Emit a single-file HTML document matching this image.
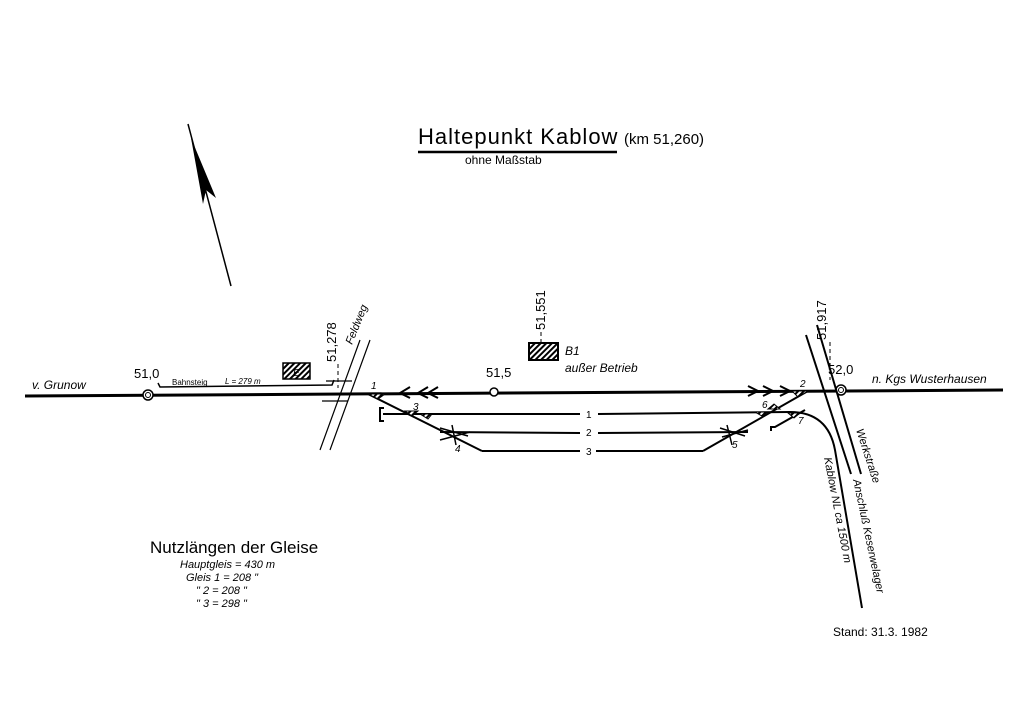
<!DOCTYPE html>
<html><head><meta charset="utf-8"><style>
html,body{margin:0;padding:0;background:#fff;}
svg{display:block;font-family:"Liberation Sans",sans-serif;}
.i{font-style:italic;}
</style></head><body>
<svg width="1024" height="724" viewBox="0 0 1024 724" xmlns="http://www.w3.org/2000/svg">
<rect width="1024" height="724" fill="#fff"/>
<defs>
<pattern id="h" width="4" height="4" patternUnits="userSpaceOnUse" patternTransform="rotate(45)"><rect width="4" height="4" fill="#fff"/><rect width="2" height="4" fill="#000"/></pattern>
</defs>
<!-- North arrow -->
<line x1="188" y1="124" x2="231" y2="286" stroke="#000" stroke-width="1.5"/>
<polygon points="191,138 216,198 206,190 203,204" fill="#000"/>
<!-- Title -->
<text x="418" y="144" font-size="22" letter-spacing="1">Haltepunkt  Kablow</text>
<line x1="418" y1="152" x2="617" y2="152" stroke="#000" stroke-width="2.5"/>
<text x="624" y="144" font-size="15">(km 51,260)</text>
<text x="465" y="164" font-size="12">ohne Maßstab</text>
<!-- main line -->
<line x1="25" y1="396" x2="1003" y2="390" stroke="#000" stroke-width="3"/>
<circle cx="148" cy="395" r="5" fill="#fff" stroke="#000" stroke-width="1.5"/><circle cx="148" cy="395" r="2.5" fill="none" stroke="#000"/>
<circle cx="494" cy="392" r="4" fill="#fff" stroke="#000" stroke-width="1.5"/>
<circle cx="841" cy="390" r="5" fill="#fff" stroke="#000" stroke-width="1.5"/><circle cx="841" cy="390" r="2.5" fill="none" stroke="#000"/>
<text x="32" y="389" font-size="12" class="i">v. Grunow</text>
<text x="134" y="378" font-size="13">51,0</text>
<text x="486" y="377" font-size="13">51,5</text>
<text x="828" y="374" font-size="13">52,0</text>
<text x="872" y="383" font-size="12" class="i">n. Kgs Wusterhausen</text>
<!-- platform -->
<polyline points="158,383 160,387 332,385 334,380" fill="none" stroke="#000" stroke-width="1.5"/>
<text x="172" y="385" font-size="8">Bahnsteig</text>
<text x="225" y="384" font-size="8" class="i">L = 279 m</text>
<rect x="283" y="363" width="27" height="16" fill="url(#h)" stroke="#000" stroke-width="1.5"/>
<text x="293" y="376" font-size="10" class="i">E</text>
<!-- Feldweg road -->
<line x1="360" y1="340" x2="320" y2="450" stroke="#000" stroke-width="1.2"/>
<line x1="370" y1="340" x2="330" y2="450" stroke="#000" stroke-width="1.2"/>
<line x1="326" y1="381" x2="352" y2="381" stroke="#000" stroke-width="1.2"/>
<line x1="322" y1="401" x2="348" y2="401" stroke="#000" stroke-width="1.2"/>
<line x1="338" y1="364" x2="338" y2="388" stroke="#000" stroke-dasharray="4,3"/>
<text transform="translate(336,362) rotate(-90)" font-size="13">51,278</text>
<text transform="translate(352,345) rotate(-68)" font-size="11" class="i">Feldweg</text>
<!-- B1 -->
<line x1="541" y1="332" x2="541" y2="343" stroke="#000" stroke-dasharray="4,3"/>
<text transform="translate(545,330) rotate(-90)" font-size="13">51,551</text>
<rect x="529" y="343" width="29" height="17" fill="url(#h)" stroke="#000" stroke-width="2"/>
<text x="565" y="355" font-size="12" class="i">B1</text>
<text x="565" y="372" font-size="12" class="i">außer Betrieb</text>
<!-- arrows on main -->
<g fill="none" stroke="#000" stroke-width="2">
<polyline points="410,387 400,393 410,398"/><polyline points="428,387 418,393 428,398"/><polyline points="438,387 428,393 438,398"/>
<polyline points="748,386 758,391 748,396"/><polyline points="763,386 773,391 763,396"/><polyline points="780,386 790,391 780,396"/>
</g>
<!-- station tracks -->
<g stroke="#000" stroke-width="2" fill="none">
<line x1="368" y1="394" x2="482" y2="451"/>
<line x1="482" y1="451" x2="580" y2="451"/><line x1="596" y1="451" x2="703" y2="451"/>
<line x1="703" y1="451" x2="808" y2="391"/>
<line x1="383" y1="414" x2="580" y2="414"/><line x1="598" y1="414" x2="790" y2="412"/>
<polyline points="384,408 380,408 380,421 384,421"/>
<line x1="440" y1="432" x2="580" y2="433"/><line x1="598" y1="433" x2="748" y2="432"/>
<path d="M790,412 Q828,412 835,450 L862,608"/>
<polyline points="805,410 775,427 771,427 771,431"/>
<line x1="806" y1="335" x2="851" y2="474"/>
<line x1="817" y1="325" x2="861" y2="474"/>
</g>
<line x1="830" y1="342" x2="830" y2="380" stroke="#000" stroke-dasharray="4,3"/>
<text transform="translate(826,340) rotate(-90)" font-size="13">51,917</text>
<!-- switch hatches -->
<g fill="url(#h)" stroke="#000">
<polygon points="368,394 385,394 378,399"/>
<polygon points="405,411 418,411 412,416"/>
<polygon points="420,414 432,414 428,419"/>
<polygon points="792,391 808,391 798,397"/>
<polygon points="755,412 768,412 762,416"/>
<polygon points="768,409 780,409 774,404"/>
<polygon points="788,413 800,413 794,418"/>
</g>
<!-- crossings -->
<g stroke="#000" stroke-width="1.5" fill="none">
<line x1="440" y1="428" x2="468" y2="436"/><line x1="440" y1="440" x2="470" y2="432"/><line x1="452" y1="425" x2="456" y2="445"/>
<line x1="720" y1="428" x2="745" y2="436"/><line x1="722" y1="437" x2="748" y2="430"/><line x1="727" y1="425" x2="732" y2="445"/>
</g>
<g font-size="10" class="i">
<text x="371" y="389">1</text><text x="413" y="410">3</text><text x="455" y="452">4</text>
<text x="732" y="448">5</text><text x="762" y="408">6</text><text x="800" y="387">2</text><text x="798" y="424">7</text>
<text x="586" y="418" font-style="normal">1</text><text x="586" y="436" font-style="normal">2</text><text x="586" y="455" font-style="normal">3</text>
</g>
<text transform="translate(856,430) rotate(72)" font-size="11" class="i">Werkstraße</text>
<text transform="translate(853,480) rotate(78)" font-size="11" class="i">Anschluß Keserwelager</text>
<text transform="translate(824,458) rotate(79)" font-size="11" class="i">Kablow NL ca 1500 m</text>
<!-- Nutzlängen -->
<text x="150" y="553" font-size="17">Nutzlängen der Gleise</text>
<g font-size="11" class="i">
<text x="180" y="568">Hauptgleis  = 430 m</text>
<text x="186" y="581">Gleis 1  = 208  "</text>
<text x="196" y="594">"   2  = 208  "</text>
<text x="196" y="607">"   3  = 298  "</text>
</g>
<text x="833" y="636" font-size="12">Stand: 31.3. 1982</text>
</svg>
</body></html>
